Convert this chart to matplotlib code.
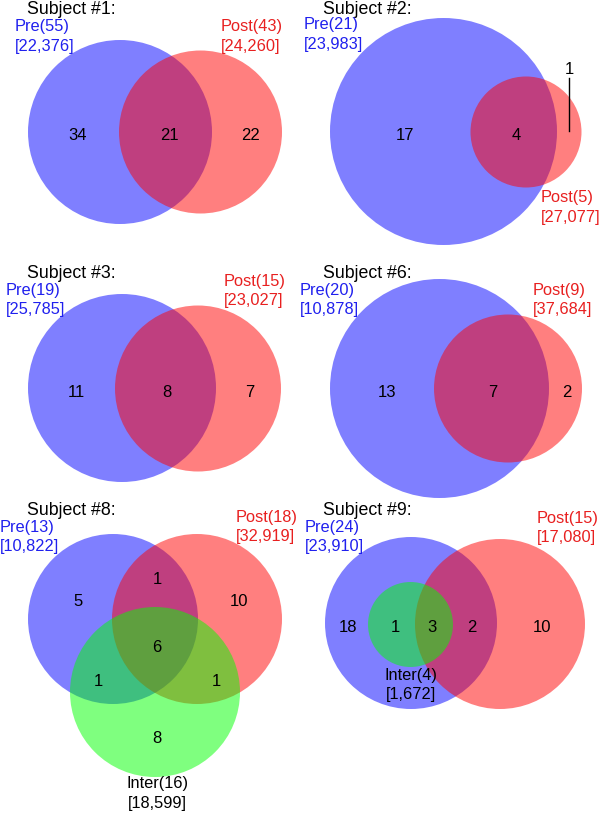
import matplotlib
matplotlib.use("Agg")
import matplotlib.pyplot as plt
from matplotlib.patches import Circle

plt.rcParams['font.family'] = ['Liberation Sans', 'DejaVu Sans']

# ---------------- data ----------------
titles = ["Subject #1:", "Subject #2:", "Subject #3:", "Subject #6:", "Subject #8:", "Subject #9:"]
pre_counts = [55, 21, 19, 20, 13, 24]
pre_reads = ["22,376", "23,983", "25,785", "10,878", "10,822", "23,910"]
post_counts = [43, 5, 15, 9, 18, 15]
post_reads = ["24,260", "27,077", "23,027", "37,684", "32,919", "17,080"]
inter_counts = [None, None, None, None, 16, 4]
inter_reads = [None, None, None, None, "18,599", "1,672"]
# region counts: pre-only, overlap, post-only (two-set panels)
two_set_regions = {
    0: [34, 21, 22],
    1: [17, 4, 1],
    2: [11, 8, 7],
    3: [13, 7, 2],
}
# Subject #8 regions: pre-only, pre&post, post-only, all, pre&inter, post&inter, inter-only
s8_regions = [5, 1, 10, 6, 1, 1, 8]
# Subject #9 regions: pre-only, pre&inter, all three, pre&post, post-only
s9_regions = [18, 1, 3, 2, 10]

# ---------------- layout (pixel coordinates) ----------------
BLUE = (0, 0, 1, 0.5)
RED = (1, 0, 0, 0.5)
GREEN = (0, 1, 0, 0.5)
BLUE_T = "#2020ee"
RED_T = "#e82020"

circles = [
    [(120, 132, 92, BLUE), (200.5, 132, 81.5, RED)],
    [(443.5, 131.5, 113.5, BLUE), (526, 132, 55.5, RED)],
    [(122, 388, 94, BLUE), (198, 388.5, 83, RED)],
    [(439.5, 388.5, 109.5, BLUE), (508, 388.5, 74, RED)],
    [(113, 619, 85, BLUE), (197, 619, 85, RED), (155, 692, 85, GREEN)],
    [(411, 623, 86, BLUE), (500, 624, 85, RED), (410.5, 624.5, 42.5, GREEN)],
]
title_pos = [(27, 9), (323, 9), (27, 273), (323, 273), (27, 510), (323, 510)]
pre_pos = [(15, 27, 46), (304, 25, 44), (6, 290, 309), (300, 290, 309), (0, 527, 546), (305, 527, 546)]
post_pos = [(221, 27, 46), (541, 197, 217), (224, 281, 300), (533, 290, 309), (236, 517, 536), (537, 518, 537)]
inter_pos = {4: (157, 783, 803), 5: (411, 675, 694)}
two_set_num_pos = {
    0: [(78, 136), (169, 136), (251, 136)],
    1: [(405, 136), (516, 136), (569, 69)],
    2: [(76, 392), (167, 392), (250, 392)],
    3: [(387, 392), (493, 392), (567, 392)],
}
s8_num_pos = [(78, 601), (157, 579), (239, 601), (157, 647), (98, 681), (216, 681), (157, 738)]
s9_num_pos = [(348, 627), (395, 627), (432, 627), (472, 627), (542, 627)]

TITLE_FS = 12.8
LABEL_FS = 11.8
NUM_FS = 12.0

fig = plt.figure(figsize=(6.0, 8.13), dpi=100)
ax = fig.add_axes([0, 0, 1, 1])
ax.set_xlim(0, 600)
ax.set_ylim(813, 0)
ax.set_aspect('equal')
ax.axis('off')

for i in range(6):
    for (cx, cy, r, col) in circles[i]:
        ax.add_patch(Circle((cx, cy), r, facecolor=col, edgecolor='none'))
    tx, ty = title_pos[i]
    ax.text(tx, ty, titles[i], fontsize=TITLE_FS, ha='left', va='center', color='black')
    px, py1, py2 = pre_pos[i]
    ax.text(px, py1, f"Pre({pre_counts[i]})", fontsize=LABEL_FS, ha='left', va='center', color=BLUE_T)
    ax.text(px, py2, f"[{pre_reads[i]}]", fontsize=LABEL_FS, ha='left', va='center', color=BLUE_T)
    qx, qy1, qy2 = post_pos[i]
    ax.text(qx, qy1, f"Post({post_counts[i]})", fontsize=LABEL_FS, ha='left', va='center', color=RED_T)
    ax.text(qx, qy2, f"[{post_reads[i]}]", fontsize=LABEL_FS, ha='left', va='center', color=RED_T)
    if inter_counts[i] is not None:
        ix, iy1, iy2 = inter_pos[i]
        ax.text(ix, iy1, f"Inter({inter_counts[i]})", fontsize=LABEL_FS, ha='center', va='center', color='black')
        ax.text(ix, iy2, f"[{inter_reads[i]}]", fontsize=LABEL_FS, ha='center', va='center', color='black')

for i, vals in two_set_regions.items():
    for v, (x, y) in zip(vals, two_set_num_pos[i]):
        ax.text(x, y, str(v), fontsize=NUM_FS, ha='center', va='center', color='black')
for v, (x, y) in zip(s8_regions, s8_num_pos):
    ax.text(x, y, str(v), fontsize=NUM_FS, ha='center', va='center', color='black')
for v, (x, y) in zip(s9_regions, s9_num_pos):
    ax.text(x, y, str(v), fontsize=NUM_FS, ha='center', va='center', color='black')

# leader line for the tiny region in Subject #2
ax.plot([569, 569], [78, 131], color='black', linewidth=1.0)

fig.savefig("out.png", dpi=100)
